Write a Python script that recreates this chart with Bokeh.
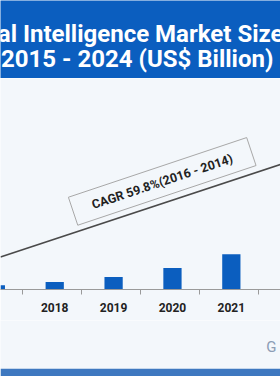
from bokeh.plotting import figure
from bokeh.layouts import column
from bokeh.models import Range1d, FixedTicker, Label, BoxAnnotation
from bokeh.embed import file_html
from bokeh.resources import INLINE
from bokeh.core.properties import value

# ---------------- data ----------------
years = [2017, 2018, 2019, 2020, 2021]
market_size = [0.86, 1.52, 2.52, 4.32, 7.06]          # US$ Billion
tick_years = [2017, 2018, 2019, 2020, 2021, 2022]
tick_labels = ["2017", "2018", "2019", "2020", "2021", "2022"]
title_line1 = "Artificial Intelligence Market Size"
title_line2 = "2015 - 2024 (US$ Billion)"
cagr_text = "CAGR 59.8%(2016 - 2014)"
logo_text = "G"

# trend arrow (annotation) endpoints in data units
trend_x = [2017.079, 2021.835]
trend_y = [6.48, 25.02]
cagr_x, cagr_y = 2019.826, 21.62
# ---------------- styles ----------------
BG = "#F3F7FB"
BANNER = "#0B5EBF"
BAR = "#0B5EBF"
STRIP = "#3E78C0"
FONT = "Roboto"

# ---------------- banner ----------------
b = figure(width=280, height=78, x_range=Range1d(0, 280), y_range=Range1d(0, 78),
           toolbar_location=None, output_backend="svg", min_border=0,
           x_axis_location=None, y_axis_location=None,
           background_fill_color=BANNER, border_fill_color=BANNER, outline_line_color=None)
b.grid.visible = False
b.add_layout(Label(x=283, y=44.7, text=title_line1, text_align="right", text_baseline="alphabetic",
                   text_font=FONT, text_font_style="bold", text_font_size="24px", text_color="white"))
b.add_layout(Label(x=136.7, y=19.7, text=title_line2, text_align="center", text_baseline="alphabetic",
                   text_font=FONT, text_font_style="bold", text_font_size="24px", text_color="white"))

# ---------------- main chart ----------------
p = figure(width=280, height=242, x_range=Range1d(2017.079, 2021.835), y_range=Range1d(0, 42.2),
           toolbar_location=None, output_backend="svg", y_axis_location=None,
           min_border_left=0, min_border_right=0, min_border_top=0, min_border_bottom=31,
           background_fill_color=BG, border_fill_color=BG, outline_line_color=None)
p.grid.visible = False
p.vbar(x=years, top=market_size, width=0.31, fill_color=BAR, line_color=None)

ax = p.xaxis[0]
ax.ticker = FixedTicker(ticks=tick_years, minor_ticks=[yr + 0.46 for yr in [2016] + tick_years])
ax.major_label_overrides = {yr: lb for yr, lb in zip(tick_years, tick_labels)}
ax.major_tick_line_color = None
ax.major_tick_out = 0
ax.major_tick_in = 0
ax.minor_tick_out = 5
ax.minor_tick_in = 0
ax.minor_tick_line_color = "#9A9A9A"
ax.axis_line_color = "#9A9A9A"
ax.major_label_text_font = FONT
ax.major_label_text_font_style = "bold"
ax.major_label_text_font_size = "12px"
ax.major_label_text_color = "#222222"
ax.major_label_standoff = 8

# edge labels that fall outside the visible range
for yr, lb in zip(tick_years, tick_labels):
    if yr < 2017.079 or yr > 2021.835:
        p.add_layout(Label(x=yr, y=-1.6, text=lb, text_align="center", text_baseline="top",
                           text_font=FONT, text_font_style="bold", text_font_size="12px",
                           text_color="#222222"))

p.line(x=trend_x, y=trend_y, line_color="#4A4A4A", line_width=1.6)
p.rect(x=[cagr_x], y=[cagr_y], width=188, height=29.5, width_units="screen", height_units="screen",
       angle=0.323, fill_color=BG, line_color="#A8A8A8", line_width=1)
p.text(x=[cagr_x], y=[cagr_y], text=[cagr_text], angle=0.323, text_align="center",
       text_baseline="middle", text_font=value(FONT), text_font_style="bold",
       text_font_size="12.5px", text_color="#222222")

# ---------------- footer ----------------
f = figure(width=280, height=56, x_range=Range1d(0, 280), y_range=Range1d(0, 56),
           toolbar_location=None, output_backend="svg", min_border=0,
           x_axis_location=None, y_axis_location=None,
           background_fill_color=BG, border_fill_color=BG, outline_line_color=None)
f.grid.visible = False
f.add_layout(BoxAnnotation(bottom=0, top=7.7, fill_color=STRIP, fill_alpha=1, line_color=None))
f.add_layout(Label(x=265.7, y=21, text=logo_text, text_font=FONT, text_font_size="15px",
                   text_color="#8C9DB5"))

layout = column(b, p, f, spacing=0)
open("out.html", "w").write(file_html(layout, INLINE))
